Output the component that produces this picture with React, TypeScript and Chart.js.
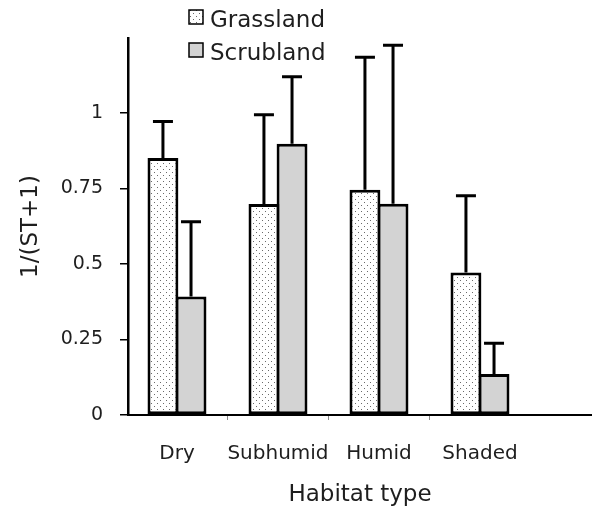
import React, { useEffect, useRef } from 'react';
import { Chart, registerables } from 'chart.js';

Chart.register(...registerables);

const categories = ['Dry', 'Subhumid', 'Humid', 'Shaded'];
const grassland = [0.85, 0.698, 0.745, 0.471];
const grasslandErr = [0.121, 0.295, 0.438, 0.254];
const scrubland = [0.392, 0.897, 0.699, 0.136];
const scrublandErr = [0.247, 0.222, 0.524, 0.101];
const yTicks = [0, 0.25, 0.5, 0.75, 1];
const seriesNames = ['Grassland', 'Scrubland'];

const FONT = '"DejaVu Sans", sans-serif';
const TEXT = '#1e1e1e';

function makeDotPattern(): CanvasPattern | string {
  const c = document.createElement('canvas');
  c.width = 6;
  c.height = 6;
  const g = c.getContext('2d');
  if (!g) return '#eee';
  g.fillStyle = '#ffffff';
  g.fillRect(0, 0, 6, 6);
  g.fillStyle = '#6a6a6a';
  g.fillRect(1, 1, 1, 1);
  g.fillRect(4, 4, 1, 1);
  const p = g.createPattern(c, 'repeat');
  return p || '#eee';
}

const errorBarPlugin = {
  id: 'errorBars',
  afterDatasetsDraw(chart: any) {
    const ctx = chart.ctx;
    const yScale = chart.scales.y;
    chart.data.datasets.forEach((ds: any, di: number) => {
      const meta = chart.getDatasetMeta(di);
      const errs: number[] = ds.errors || [];
      meta.data.forEach((bar: any, i: number) => {
        const v = ds.data[i].y;
        const topPx = yScale.getPixelForValue(v + errs[i]);
        ctx.save();
        ctx.strokeStyle = '#000';
        ctx.lineWidth = 3;
        ctx.beginPath();
        ctx.moveTo(bar.x, bar.y);
        ctx.lineTo(bar.x, topPx);
        ctx.moveTo(bar.x - 10, topPx);
        ctx.lineTo(bar.x + 10, topPx);
        ctx.stroke();
        ctx.restore();
      });
    });
  },
};

const cornerLegendPlugin = {
  id: 'cornerLegend',
  afterDraw(chart: any) {
    const ctx = chart.ctx;
    const baselines = [27, 60];
    chart.data.datasets.forEach((ds: any, i: number) => {
      const base = baselines[i];
      ctx.save();
      ctx.fillStyle = ds.backgroundColor;
      ctx.fillRect(189, base - 17, 14, 14);
      ctx.strokeStyle = '#000';
      ctx.lineWidth = 1.5;
      ctx.strokeRect(189, base - 17, 14, 14);
      ctx.fillStyle = TEXT;
      ctx.font = `23px ${FONT}`;
      ctx.textBaseline = 'alphabetic';
      ctx.textAlign = 'left';
      ctx.fillText(ds.label, 210, base);
      ctx.restore();
    });
  },
};

export default function App() {
  const ref = useRef<HTMLCanvasElement | null>(null);

  useEffect(() => {
    if (!ref.current) return;
    const pattern = makeDotPattern();
    const chart = new Chart(ref.current, {
      type: 'bar',
      data: {
        datasets: [
          {
            label: seriesNames[0],
            data: grassland.map((y, i) => ({ x: i + 1, y })),
            backgroundColor: pattern as any,
            borderColor: '#000',
            borderWidth: 3,
            borderSkipped: false,
            errors: grasslandErr,
          } as any,
          {
            label: seriesNames[1],
            data: scrubland.map((y, i) => ({ x: i + 1, y })),
            backgroundColor: '#d3d3d3',
            borderColor: '#000',
            borderWidth: 3,
            borderSkipped: false,
            errors: scrublandErr,
          } as any,
        ],
      },
      options: {
        responsive: false,
        animation: false,
        layout: { padding: { top: 38, left: 0, right: 0, bottom: 0 } },
        datasets: { bar: { categoryPercentage: 0.556, barPercentage: 1.1 } } as any,
        plugins: {
          legend: { display: false },
          tooltip: { enabled: false },
        },
        scales: {
          x: {
            type: 'linear',
            min: 0.515,
            max: 5.109,
            offset: false,
            afterBuildTicks: (s: any) => {
              s.ticks = categories.map((_, i) => ({ value: i + 1 }));
            },
            afterFit: (s: any) => {
              s.height = 95;
            },
            ticks: {
              autoSkip: false,
              maxRotation: 0,
              minRotation: 0,
              padding: 22,
              color: TEXT,
              font: { family: FONT, size: 20 },
              callback: (v: any) => categories[Number(v) - 1] ?? '',
            },
            grid: {
              offset: true,
              drawOnChartArea: false,
              tickLength: 5,
              lineWidth: 1,
              color: (c: any) =>
                c.index === undefined || c.index === 0 ? 'rgba(0,0,0,0)' : '#888',
            },
            border: { color: '#000', width: 2 },
            title: {
              display: true,
              text: 'Habitat type',
              color: TEXT,
              font: { family: FONT, size: 23 },
              padding: { top: 0, bottom: 1 },
            },
          } as any,
          y: {
            type: 'linear',
            min: 0,
            max: 1.247,
            afterBuildTicks: (s: any) => {
              s.ticks = yTicks.map((v) => ({ value: v }));
            },
            afterFit: (s: any) => {
              s.width = 128;
            },
            ticks: {
              padding: 17,
              color: TEXT,
              font: { family: FONT, size: 19 },
              callback: (v: any) => String(v),
            },
            grid: {
              drawOnChartArea: false,
              tickLength: 8,
              lineWidth: 1.5,
              color: '#000',
            },
            border: { color: '#000', width: 2.5 },
            title: {
              display: true,
              text: '1/(ST+1)',
              color: TEXT,
              font: { family: FONT, size: 23 },
              padding: { top: 17, bottom: 0 },
            },
          } as any,
        },
      },
      plugins: [errorBarPlugin, cornerLegendPlugin],
    });
    return () => chart.destroy();
  }, []);

  return (
    <div
      style={{
        position: 'fixed',
        left: 0,
        top: 0,
        width: 592,
        height: 510,
        background: '#fff',
      }}
    >
      <canvas ref={ref} width={592} height={510} style={{ width: 592, height: 510, display: 'block' }} />
    </div>
  );
}
